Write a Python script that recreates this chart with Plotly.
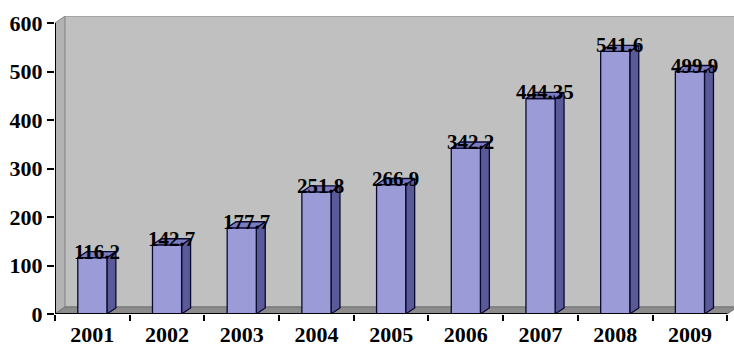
import plotly.graph_objects as go

# Annual values, 2001-2009
years = ["2001", "2002", "2003", "2004", "2005", "2006", "2007", "2008", "2009"]
values = [116.2, 142.7, 177.7, 251.8, 266.9, 342.2, 444.35, 541.6, 499.9]
labels = ["116.2", "142.7", "177.7", "251.8", "266.9", "342.2", "444.35", "541.6", "499.9"]
y_ticks = [0, 100, 200, 300, 400, 500, 600]

# pseudo-3D geometry in axis units
BAR_W = 0.39     # front face width
BX, BY = 0.12, 12.5   # bar depth offsets
DX, DY = 0.135, 14.5  # wall / floor depth offsets
X0, X1 = -0.5, 8.5
YMAX = 600

FONT = "'Liberation Serif', 'Times New Roman', serif"
FRONT = "#9b9bd8"
SIDE = "#5a5a98"
TOP = "#7b7bc0"
EDGE = "#0a0a30"

fig = go.Figure()


def poly(xs, ys, fill, line, width=1):
    fig.add_trace(go.Scatter(x=xs, y=ys, mode="lines", fill="toself",
                             fillcolor=fill, line=dict(color=line, width=width),
                             hoverinfo="skip", showlegend=False))


# left side wall
poly([X0, X0, X0 + DX, X0 + DX, X0], [0, YMAX, YMAX + DY, DY, 0], "#b3b3b3", "#8a8a8a")
# back wall
poly([X0 + DX, X0 + DX, 9.0, 9.0, X0 + DX], [DY, YMAX + DY, YMAX + DY, DY, DY], "#c0c0c0", "#8a8a8a")
# floor
poly([X0, X1, X1 + DX, X0 + DX, X0], [0, 0, DY, DY, 0], "#8c8c8c", "#707070")

# bar faces, each face type in one trace separated by None
fx, fy, sx, sy, tx, ty = [], [], [], [], [], []
for i, v in enumerate(values):
    l, r = i - BAR_W / 2, i + BAR_W / 2
    fx += [l, r, r, l, l, None]
    fy += [0, 0, v, v, 0, None]
    sx += [r, r + BX, r + BX, r, r, None]
    sy += [0, BY, v + BY, v, 0, None]
    tx += [l, r, r + BX, l + BX, l, None]
    ty += [v, v, v + BY, v + BY, v, None]
poly(sx, sy, SIDE, EDGE, 1.3)
poly(fx, fy, FRONT, EDGE, 1.3)
poly(tx, ty, TOP, EDGE, 1.3)

# y axis line (stops at the top tick)
fig.add_trace(go.Scatter(x=[X0, X0], y=[0, YMAX], mode="lines",
                         line=dict(color="black", width=2), cliponaxis=False,
                         hoverinfo="skip", showlegend=False))
# x axis line
fig.add_trace(go.Scatter(x=[X0, X1], y=[0, 0], mode="lines",
                         line=dict(color="black", width=2), cliponaxis=False,
                         hoverinfo="skip", showlegend=False))

# value labels on top faces
for i, (v, t) in enumerate(zip(values, labels)):
    fig.add_annotation(x=i + BX / 2, y=v + BY / 2, text="<b>%s</b>" % t, showarrow=False,
                       xanchor="center", yanchor="middle", yshift=3,
                       font=dict(family=FONT, size=21, color="black"))

fig.update_layout(
    width=734, height=347,
    margin=dict(l=55, r=0, t=16, b=33),
    paper_bgcolor="white", plot_bgcolor="white",
    xaxis=dict(range=[X0, 8.59], tickmode="array", tickvals=list(range(len(years))),
               ticktext=["<b>%s</b>" % y for y in years], ticks="", showgrid=False,
               zeroline=False, showline=False, ticklabelstandoff=5,
               tickfont=dict(family=FONT, size=22, color="black"),
               minor=dict(tickmode="linear", tick0=-0.5, dtick=1, ticks="outside",
                          ticklen=6, tickwidth=2, tickcolor="black", showgrid=False)),
    yaxis=dict(range=[0, YMAX + DY], tickmode="array", tickvals=y_ticks,
               ticktext=["<b>%d</b>" % t for t in y_ticks],
               ticks="outside", ticklen=7, tickwidth=2, tickcolor="black",
               showgrid=False, zeroline=False, showline=False,
               tickfont=dict(family=FONT, size=22, color="black")),
)

fig.write_html("out.html")
